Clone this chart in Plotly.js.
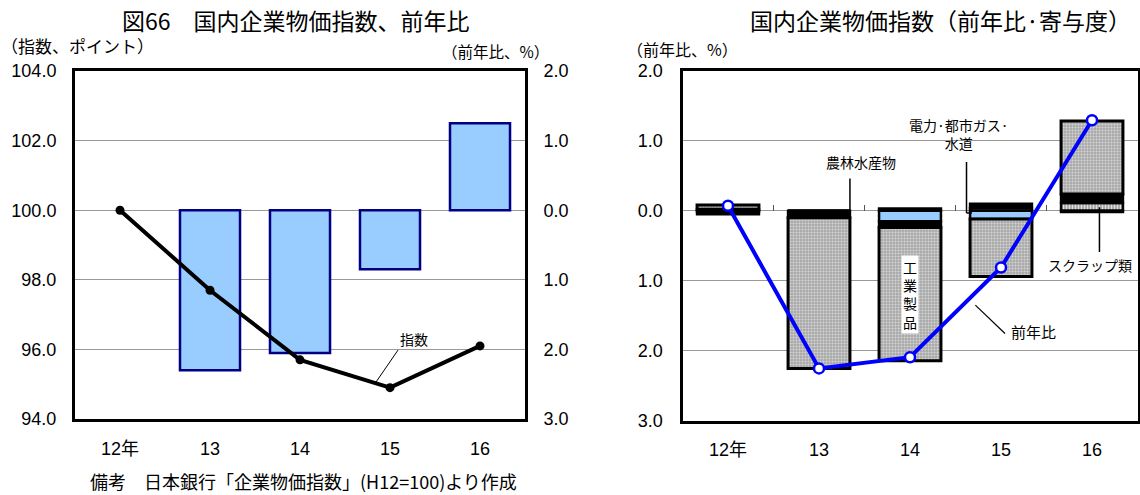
<!DOCTYPE html>
<html>
<head>
<meta charset="utf-8">
<script src="https://cdn.plot.ly/plotly-3.0.1.min.js"></script>
<style>
  html, body { margin: 0; padding: 0; background: #fff; }
  #chart { width: 1140px; height: 495px; }
</style>
</head>
<body>
<div id="chart"></div>
<script>
// Years on the category axis
const years = ['12年', '13', '14', '15', '16'];

// Left panel: price index (H12 = 100) and year-on-year change (%)
const indexValues = [100.0, 97.7, 95.7, 94.9, 96.1];
const yoyBars = [null, -2.3, -2.05, -0.85, 1.25];

// Right panel: year-on-year change (%) and contributions by group (percentage points)
const yoyLine = [0.07, -2.25, -2.09, -0.81, 1.29];
const scrap = [0.02, 0.0, 0.03, 0.04, 0.11];
const utilities = [-0.02, 0.0, -0.15, -0.12, -0.02];
const agriculture = [-0.03, -0.10, -0.09, 0.06, 0.13];
const industrial = [0.06, -2.15, -1.90, -0.82, 1.04];

// Axis labels for the % scale (negative side printed without sign)
const pctTickVals = [2, 1, 0, -1, -2, -3];
const pctTickText = ['2.0', '1.0', '0.0', '1.0', '2.0', '3.0'];

const W = 1140, H = 495;
const px = v => v / W;
const py = v => 1 - v / H;

const FONT = 'Liberation Sans, Arial, Noto Sans CJK JP, sans-serif';
const JFONT = 'Noto Sans CJK JP, sans-serif';

const traces = [
  // left: YoY bars on the right-hand % axis
  {
    type: 'bar', x: years, y: yoyBars, xaxis: 'x', yaxis: 'y',
    width: 0.667,
    marker: { color: '#99ccff', line: { color: '#000080', width: 2.5 } },
    hoverinfo: 'skip', showlegend: false
  },
  // left: index line on the left-hand axis
  {
    type: 'scatter', mode: 'lines+markers', x: years, y: indexValues,
    xaxis: 'x', yaxis: 'y2',
    line: { color: '#000', width: 4 },
    marker: { color: '#000', size: 9 },
    hoverinfo: 'skip', showlegend: false
  },
  // right: stacked contributions
  {
    type: 'bar', name: 'スクラップ類', x: years, y: scrap, xaxis: 'x2', yaxis: 'y3',
    width: 0.68,
    marker: {
      color: '#ffffff', line: { color: '#000', width: 2.5 },
      pattern: { shape: '|', fgcolor: '#777', bgcolor: '#ececec', size: 3, solidity: 0.4 }
    },
    hoverinfo: 'skip', showlegend: false
  },
  {
    type: 'bar', name: '電力・都市ガス・水道', x: years, y: utilities, xaxis: 'x2', yaxis: 'y3',
    width: 0.68,
    marker: { color: '#99ccff', line: { color: '#000', width: 2.5 } },
    hoverinfo: 'skip', showlegend: false
  },
  {
    type: 'bar', name: '農林水産物', x: years, y: agriculture, xaxis: 'x2', yaxis: 'y3',
    width: 0.68,
    marker: { color: '#000000', line: { color: '#000', width: 2.5 } },
    hoverinfo: 'skip', showlegend: false
  },
  {
    type: 'bar', name: '工業製品', x: years, y: industrial, xaxis: 'x2', yaxis: 'y3',
    width: 0.68,
    marker: {
      color: '#ffffff', line: { color: '#000', width: 3 },
      pattern: { shape: '.', fgcolor: '#8c8c8c', bgcolor: '#eaeaea', size: 3, solidity: 0.5 }
    },
    hoverinfo: 'skip', showlegend: false
  },
  // right: YoY line
  {
    type: 'scatter', mode: 'lines+markers', x: years, y: yoyLine,
    xaxis: 'x2', yaxis: 'y3',
    line: { color: '#0000ff', width: 4 },
    marker: { color: '#ffffff', size: 10, line: { color: '#0000ff', width: 2.5 } },
    hoverinfo: 'skip', showlegend: false
  },
  // carrier for the category-boundary tick axis on the zero line
  {
    type: 'scatter', mode: 'markers', x: [0], y: [0], xaxis: 'x3', yaxis: 'y3',
    marker: { opacity: 0 }, hoverinfo: 'skip', showlegend: false
  }
];

const leftDom = [px(75), px(525)];
const leftY = [py(419), py(71)];
const rightDom = [px(682.5), px(1137.5)];
const rightY = [py(421), py(70.5)];
const zeroPos = rightY[0] + (rightY[1] - rightY[0]) * 0.6;

const tickFont = { family: FONT, size: 18, color: '#000' };

const layout = {
  width: W, height: H,
  margin: { l: 0, r: 0, t: 0, b: 0 },
  paper_bgcolor: '#fff', plot_bgcolor: '#fff',
  barmode: 'relative',
  showlegend: false,
  xaxis: {
    domain: leftDom, anchor: 'y', type: 'category', categoryarray: years,
    range: [-0.5, 4.5], showgrid: false, zeroline: false,
    showline: true, mirror: true, linecolor: '#000', linewidth: 3,
    ticks: '', tickfont: tickFont, ticklabelstandoff: 11
  },
  yaxis: {
    domain: leftY, anchor: 'x', side: 'right', range: [-3, 2],
    tickvals: pctTickVals, ticktext: pctTickText,
    showgrid: true, gridcolor: '#999', gridwidth: 1, zeroline: false,
    showline: true, linecolor: '#000', linewidth: 3,
    ticks: '', tickfont: tickFont, ticklabelstandoff: 12
  },
  yaxis2: {
    overlaying: 'y', anchor: 'x', side: 'left', range: [94, 104],
    tickvals: [94, 96, 98, 100, 102, 104], tickformat: '.1f',
    showgrid: false, zeroline: false,
    showline: true, linecolor: '#000', linewidth: 3,
    ticks: '', tickfont: tickFont, ticklabelstandoff: 12
  },
  xaxis2: {
    domain: rightDom, anchor: 'y3', type: 'category', categoryarray: years,
    range: [-0.5, 4.5], showgrid: false, zeroline: false,
    showline: true, mirror: true, linecolor: '#000', linewidth: 3,
    ticks: '', tickfont: tickFont, ticklabelstandoff: 10
  },
  yaxis3: {
    domain: rightY, anchor: 'x2', range: [-3, 2],
    tickvals: pctTickVals, ticktext: pctTickText,
    showgrid: true, gridcolor: '#999', gridwidth: 1, zeroline: false,
    showline: true, mirror: true, linecolor: '#000', linewidth: 3,
    ticks: '', tickfont: tickFont, ticklabelstandoff: 13
  },
  xaxis3: {
    overlaying: 'x2', anchor: 'free', position: zeroPos, range: [-0.5, 4.5],
    tickvals: [0.5, 1.5, 2.5, 3.5], ticks: 'inside', ticklen: 6, tickwidth: 1,
    tickcolor: '#555', showticklabels: false, showgrid: false, zeroline: false,
    showline: false
  },
  annotations: [
    { text: '図66　国内企業物価指数、前年比', xref: 'paper', yref: 'paper',
      x: px(296), y: py(20), xanchor: 'center', yanchor: 'middle', showarrow: false,
      font: { family: JFONT, size: 23, color: '#000' } },
    { text: '（指数、ポイント）', xref: 'paper', yref: 'paper',
      x: px(77), y: py(45), xanchor: 'center', yanchor: 'middle', showarrow: false,
      font: { family: JFONT, size: 17, color: '#000' } },
    { text: '（前年比、%）', xref: 'paper', yref: 'paper',
      x: px(495), y: py(51), xanchor: 'center', yanchor: 'middle', showarrow: false,
      font: { family: JFONT, size: 15.5, color: '#000' } },
    { text: '国内企業物価指数（前年比·寄与度）', xref: 'paper', yref: 'paper',
      x: px(940), y: py(20), xanchor: 'center', yanchor: 'middle', showarrow: false,
      font: { family: JFONT, size: 23, color: '#000' } },
    { text: '（前年比、%）', xref: 'paper', yref: 'paper',
      x: px(682), y: py(49), xanchor: 'center', yanchor: 'middle', showarrow: false,
      font: { family: JFONT, size: 16, color: '#000' } },
    { text: '備考　日本銀行「企業物価指数」(H12=100)より作成', xref: 'paper', yref: 'paper',
      x: px(303), y: py(481), xanchor: 'center', yanchor: 'middle', showarrow: false,
      font: { family: JFONT, size: 18, color: '#000' } },
    // series labels
    { text: '指数', xref: 'x', yref: 'y2', x: 3.267, y: 96.3,
      xanchor: 'center', yanchor: 'middle', showarrow: false,
      font: { family: JFONT, size: 14, color: '#000' } },
    { text: '農林水産物', xref: 'x2', yref: 'y3', x: 1.46, y: 0.69,
      xanchor: 'center', yanchor: 'middle', showarrow: false,
      font: { family: JFONT, size: 14, color: '#000' } },
    { text: '電力·都市ガス·<br>水道', xref: 'x2', yref: 'y3', x: 2.538, y: 1.088,
      xanchor: 'center', yanchor: 'middle', showarrow: false,
      font: { family: JFONT, size: 14, color: '#000' } },
    { text: 'スクラップ類', xref: 'x2', yref: 'y3', x: 3.978, y: -0.778,
      xanchor: 'center', yanchor: 'middle', showarrow: false,
      font: { family: JFONT, size: 14, color: '#000' } },
    { text: '前年比', xref: 'x2', yref: 'y3', x: 3.359, y: -1.728,
      xanchor: 'center', yanchor: 'middle', showarrow: false,
      font: { family: JFONT, size: 15, color: '#000' } },
    { text: '工<br>業<br>製<br>品', xref: 'x2', yref: 'y3', x: 2, y: -1.198,
      xanchor: 'center', yanchor: 'middle', showarrow: false,
      bgcolor: '#ffffff', borderpad: 1,
      font: { family: JFONT, size: 14, color: '#000' } }
  ],
  shapes: [
    // leader lines
    { type: 'line', xref: 'x', yref: 'y2', x0: 3.089, y0: 95.98, x1: 2.844, y1: 95.06,
      line: { color: '#000', width: 1 } },
    { type: 'line', xref: 'x2', yref: 'y3', x0: 1.34, y0: 0.46, x1: 1.34, y1: 0.0,
      line: { color: '#000', width: 1.5 } },
    { type: 'line', xref: 'x2', yref: 'y3', x0: 2.621, y0: 0.694, x1: 2.621, y1: -0.033,
      line: { color: '#000', width: 1.5 } },
    { type: 'line', xref: 'x2', yref: 'y3', x0: 2.621, y0: -0.033, x1: 2.681, y1: -0.033,
      line: { color: '#000', width: 1.5 } },
    { type: 'line', xref: 'x2', yref: 'y3', x0: 4.082, y0: 0.048, x1: 4.082, y1: -0.588,
      line: { color: '#000', width: 1.5 } },
    { type: 'line', xref: 'x2', yref: 'y3', x0: 2.718, y0: -1.348, x1: 3.044, y1: -1.751,
      line: { color: '#000', width: 1.2 } }
  ]
};

Plotly.newPlot('chart', traces, layout, { staticPlot: true, displayModeBar: false });
</script>
</body>
</html>
